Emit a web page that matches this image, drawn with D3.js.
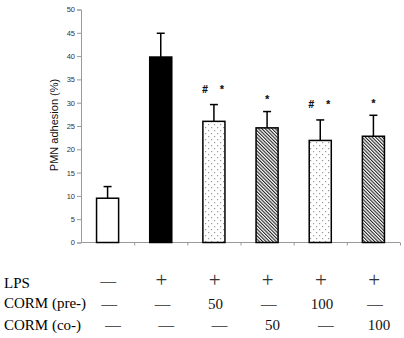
<!DOCTYPE html>
<html>
<head>
<meta charset="utf-8">
<script src="https://cdn.jsdelivr.net/npm/d3@7"></script>
<style>
html,body{margin:0;padding:0;background:#fff;}
svg{display:block;}
</style>
</head>
<body>
<svg id="chart" width="404" height="338"></svg>
<script>
// ---- data ----
const groups = ["ctrl", "LPS", "LPS+pre50", "LPS+co50", "LPS+pre100", "LPS+co100"];
const means = [9.5, 39.8, 26.0, 24.6, 21.9, 22.8];
const errors = [2.5, 5.1, 3.6, 3.5, 4.4, 4.5];
const fills = ["white", "black", "dots", "hatch", "dots", "hatch"];
const marksHash = [false, false, true, false, true, false];
const marksStar = [false, false, true, true, true, true];
const yTicks = [0, 5, 10, 15, 20, 25, 30, 35, 40, 45, 50];
const rowLabels = ["LPS", "CORM (pre-)", "CORM (co-)"];
const rowLPS = ["\u2014", "+", "+", "+", "+", "+"];
const rowPre = ["\u2014", "\u2014", "50", "\u2014", "100", "\u2014"];
const rowCo = ["\u2014", "\u2014", "\u2014", "50", "\u2014", "100"];
const yLabel = "PMN adhesion (%)";

// ---- layout ----
const svg = d3.select("#chart");
const x = d3.scaleBand().domain(d3.range(groups.length)).range([81, 400])
  .paddingInner(0.585).paddingOuter(0.2925);
const y = d3.scaleLinear().domain([0, 50]).range([242.5, 9.5]);
const step = x.step();

const defs = svg.append("defs");
const hatch = defs.append("pattern").attr("id", "hatch")
  .attr("patternUnits", "userSpaceOnUse").attr("width", 2.4).attr("height", 2.4)
  .attr("patternTransform", "rotate(-45)");
hatch.append("rect").attr("width", 2.4).attr("height", 2.4).attr("fill", "#fff");
hatch.append("rect").attr("width", 1.1).attr("height", 2.4).attr("fill", "#222");

const dots = defs.append("pattern").attr("id", "dots")
  .attr("patternUnits", "userSpaceOnUse").attr("width", 6).attr("height", 6);
dots.append("rect").attr("width", 6).attr("height", 6).attr("fill", "#fff");
dots.append("rect").attr("x", 1).attr("y", 1).attr("width", 1.2).attr("height", 1.2).attr("fill", "#999");
dots.append("rect").attr("x", 4).attr("y", 4).attr("width", 1.2).attr("height", 1.2).attr("fill", "#999");

// y axis
const yAxis = d3.axisLeft(y).tickValues(yTicks).tickSize(4).tickPadding(2);
const gy = svg.append("g").attr("transform", "translate(81,0)").call(yAxis);
gy.select(".domain").attr("stroke", "#999");
gy.selectAll(".tick line").attr("stroke", "#999");
gy.selectAll(".tick text").attr("fill", "#333")
  .style("font-family", "Liberation Sans, Arial, sans-serif").style("font-size", "7.5px");

// x axis (boundary ticks)
const boundaries = d3.range(1, groups.length + 1).map(k => 81 + k * step);
const xb = d3.scaleLinear().domain([81, 400]).range([81, 400]);
const xAxis = d3.axisBottom(xb).tickValues(boundaries).tickSize(3).tickFormat("");
const gx = svg.append("g").attr("transform", "translate(0," + y(0) + ")").call(xAxis);
gx.select(".domain").attr("stroke", "#999").attr("d", "M81,0H400");
gx.selectAll(".tick line").attr("stroke", "#999");

// y label
svg.append("text")
  .attr("transform", "translate(57.5," + 125 + ") rotate(-90)")
  .attr("text-anchor", "middle")
  .style("font-family", "Liberation Sans, Arial, sans-serif")
  .style("font-size", "11px").attr("fill", "#111")
  .text(yLabel);

// error bars
const eb = svg.append("g").attr("stroke", "#000").attr("stroke-width", 1.5);
means.forEach((m, i) => {
  const cx = x(i) + x.bandwidth() / 2;
  eb.append("line").attr("x1", cx).attr("x2", cx).attr("y1", y(m)).attr("y2", y(m + errors[i]));
  eb.append("line").attr("x1", cx - 4).attr("x2", cx + 4).attr("y1", y(m + errors[i])).attr("y2", y(m + errors[i]));
});

// bars
svg.append("g").selectAll("rect").data(means).join("rect")
  .attr("x", (d, i) => x(i))
  .attr("y", d => y(d))
  .attr("width", x.bandwidth())
  .attr("height", d => y(0) - y(d))
  .attr("fill", (d, i) => fills[i] === "dots" ? "url(#dots)" : fills[i] === "hatch" ? "url(#hatch)" : fills[i])
  .attr("stroke", "#000").attr("stroke-width", 1.5);

// significance marks
const sig = svg.append("g")
  .style("font-family", "Liberation Sans, Arial, sans-serif")
  .attr("fill", "#111").attr("stroke", "#111").attr("stroke-width", 0.2);
means.forEach((m, i) => {
  const cx = x(i) + x.bandwidth() / 2;
  const top = y(m + errors[i]);
  if (marksHash[i]) {
    sig.append("text").attr("x", cx - 9).attr("y", top - 15 + 3.5).attr("text-anchor", "middle")
      .style("font-size", "10px").style("font-weight", "bold").text("#");
    sig.append("text").attr("x", cx + 8).attr("y", top - 17 + 5.5).attr("text-anchor", "middle")
      .style("font-size", "10px").style("font-weight", "bold").text("*");
  } else if (marksStar[i]) {
    sig.append("text").attr("x", cx).attr("y", top - 14 + 5.5).attr("text-anchor", "middle")
      .style("font-size", "10px").style("font-weight", "bold").text("*");
  }
});

// table below
const tbl = svg.append("g")
  .style("font-family", "Liberation Serif, Times New Roman, serif")
  .style("font-size", "15px").attr("fill", "#000");
const labelBase = [288, 307.5, 329.5];
rowLabels.forEach((t, r) => {
  tbl.append("text").attr("x", 4).attr("y", labelBase[r]).text(t);
});
const rows = [rowLPS, rowPre, rowCo];
const rowCenter = [282, 305, 325.5];
const rowShift = [0.7, 1.7, 5.5];
rows.forEach((row, r) => {
  row.forEach((s, i) => {
    const isDash = s === "\u2014";
    const isPlus = s === "+";
    const t = tbl.append("text")
      .attr("x", x(i) + x.bandwidth() / 2 + rowShift[r])
      .attr("y", rowCenter[r] + (isPlus ? 5.3 : 4))
      .attr("text-anchor", "middle")
      .style("font-size", isPlus ? "21px" : "15px")
      .attr("fill", isDash ? "#444" : (isPlus ? "#333" : "#111"))
      .text(s);
    if (isDash) t.attr("stroke", "#555").attr("stroke-width", 0.5);
  });
});
</script>
</body>
</html>
